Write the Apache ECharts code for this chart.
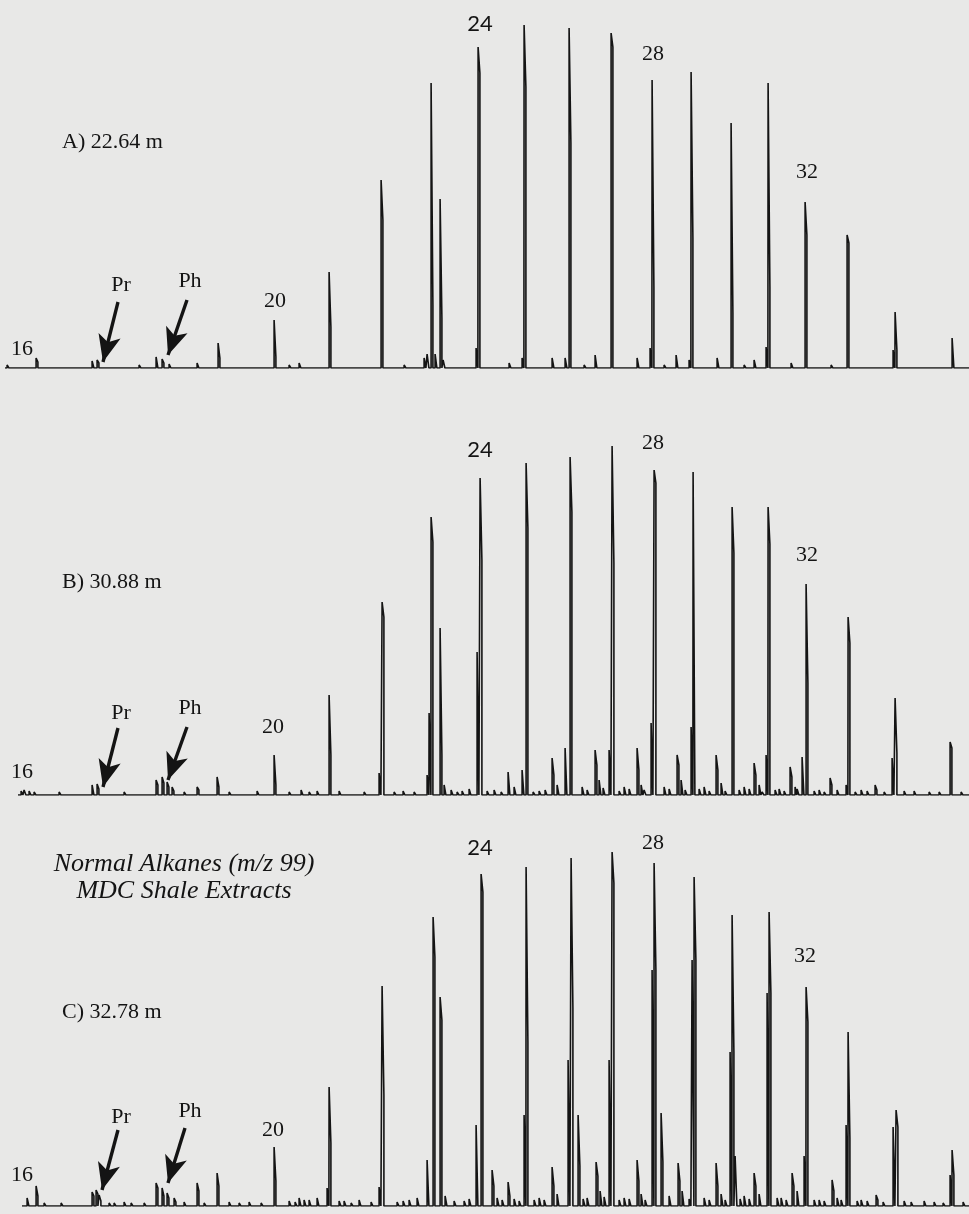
<!DOCTYPE html>
<html><head><meta charset="utf-8">
<script src="https://cdn.jsdelivr.net/npm/echarts@6/dist/echarts.min.js"></script>
<style>html,body{margin:0;padding:0;background:#e8e8e7}#c{width:969px;height:1214px}</style>
</head><body><div id="c"></div>
<script>
// Peaks: [retention position, height, lower (thick) part height]
const peaksA = [
 [8,3],[37,10,6],[93,7],[98,8,5],[157,11],[163,9,5],[170,4],[198,5],[219,25,10],
 [275,48,11],[300,5,3],[330,96,41],[382,188,148],[425,10],[428,14],[432,285,63],[436,14],
 [441,169,50],[444,8],[477,20],[479,321,295],[510,5],[523,10],[525,343,281],[553,10],
 [566,10],[570,340,225],[596,13],[612,335,321],[638,10],[651,20],[653,288,81],[677,13],
 [690,8],[692,296,130],[718,10],[732,245,55],[755,8],[767,21],[769,285,81],[792,5],
 [806,166,133],[832,3],[848,133,125],[894,18],[896,56,18],[953,30,28]
];
const noiseA = [[60,2],[125,2],[140,3],[190,2],[250,2],[290,3],[318,2],[360,2],[405,3],[455,2],
 [540,2],[585,3],[625,2],[665,3],[705,2],[745,3],[780,2],[820,2],[870,2],[920,2],[940,2]];

const peaksB = [
 [25,5],[30,4],[35,3],[93,10],[98,11,6],[157,15,10],[163,18,12],[168,13,8],[173,8,4],
 [198,8,5],[218,18,8],[275,40,10],[302,5],[318,4],[330,100,40],[380,22],[383,193,178],
 [428,20],[430,82],[432,278,253],[441,167,40],[445,10],[478,143],[481,317,235],[509,23],
 [523,25],[527,332,267],[553,37,20],[558,10],[566,47],[571,338,283],[596,45,30],[600,15],
 [610,45],[613,349,232],[638,47,25],[642,10],[652,72],[655,325,312],[678,40,30],[682,15],
 [692,68],[694,323],[717,40,25],[722,12],[733,288,242],[755,32,20],[760,10],[767,40],
 [769,288,251],[791,28,18],[796,8],[803,38],[807,211,112],[831,17,10],[847,10],[849,178,152],
 [876,10,5],[893,37],[896,97,42],[951,53,47]
];
const noiseB = [[22,4],[45,2],[60,3],[110,2],[125,3],[140,2],[185,3],[208,2],[230,3],[244,2],
 [258,4],[290,3],[296,2],[310,3],[340,4],[350,2],[365,3],[372,2],[395,3],[404,4],[415,3],[452,5],
 [458,3],[463,4],[470,6],[488,4],[495,5],[502,3],[515,8],[534,3],[540,4],[546,5],[583,8],[588,5],
 [604,7],[620,4],[625,8],[630,6],[645,5],[665,8],[670,6],[686,5],[700,6],[705,8],[710,4],[726,4],
 [740,5],[745,8],[750,6],[763,3],[776,5],[780,6],[785,4],[798,6],[815,4],[820,5],[825,3],[838,5],
 [856,3],[862,5],[868,4],[885,3],[905,4],[915,4],[930,3],[940,3],[962,3]];

const peaksC = [
 [28,8],[37,20,10],[62,3],[93,14,10],[97,16,12],[100,11,5],[157,23,18],[163,18,10],[168,13,8],
 [175,8,4],[198,23,15],[218,33,20],[275,59,25],[300,8],[305,6],[318,8],[328,18],[330,119,63],
 [380,19],[383,220,111],[428,46],[434,289,249],[441,209,186],[446,10],[477,81],[482,332,314],
 [493,36,20],[498,8],[509,24,10],[525,91],[527,339,164],[553,39,20],[558,12],[569,146],
 [572,348,198],[579,91,40],[597,44,30],[601,15],[610,146],[613,354,323],[638,46,25],[642,12],
 [653,236],[655,343,236],[662,93,44],[679,43,25],[683,15],[693,246],[695,329,246],[717,43,20],
 [722,12],[731,154],[733,291,154],[736,50],[755,33,20],[760,12],[768,213],[770,294,213],
 [793,33,20],[798,15],[805,50],[807,219,184],[833,26,15],[838,8],[847,81],[849,174,68],
 [877,11,6],[894,79],[897,96,79],[951,31],[953,56,31]
];
const noiseC = [[45,3],[70,2],[110,3],[115,3],[125,4],[132,3],[145,3],[185,4],[205,3],[230,4],
 [240,3],[250,4],[262,3],[290,5],[296,4],[310,6],[340,5],[345,5],[352,3],[360,6],[372,4],
 [398,4],[404,5],[410,6],[418,8],[455,5],[465,5],[470,7],[503,6],[515,7],[520,5],[535,6],
 [540,8],[545,6],[584,7],[588,8],[605,9],[620,6],[625,8],[630,7],[646,6],[670,10],[690,7],
 [705,8],[710,6],[726,6],[741,7],[745,10],[750,7],[778,8],[782,8],[787,6],[815,6],[820,6],
 [825,5],[842,6],[858,5],[862,6],[868,5],[884,4],[905,5],[912,4],[925,5],[935,4],[944,3],[964,4]];

const carbonLabels = ['16','20','24','28','32'];
const panelNames = ['A) 22.64 m','B) 30.88 m','C) 32.78 m'];
const traceStart = [5, 18, 22];

const INK = '#141414';
const SERIF = '"Liberation Serif","Times New Roman",serif';

function buildTrace(peaks, noise, start) {
  const all = peaks.map(p => [p[0], p[1], p.length > 2 ? p[2] : p[1]])
    .concat(noise.map(n => [n[0], n[1], n[1]]));
  all.sort((a, b) => a[0] - b[0]);
  const pts = [[start, 0]];
  for (const [x, h, h2] of all) {
    pts.push([x - 0.9, 0], [x - 0.9, h], [x + 0.9, h2], [x + 0.9, 0]);
  }
  pts.push([969, 0]);
  return pts;
}

// annotation anchors (data coordinates of each panel)
const labelAnchors = [
  [[22,19],[275,67],[480,344],[653,314],[807,196]],
  [[22,23],[273,68],[480,345],[653,352],[807,240]],
  [[22,31],[273,76],[480,358],[653,363],[805,250]]
];
const prPhAnchors = [
  {Pr:[121,83], Ph:[190,87], arrPr:[[118,66],[103,6]], arrPh:[[187,68],[168,13]]},
  {Pr:[121,82], Ph:[190,87], arrPr:[[118,67],[103,8]], arrPh:[[187,68],[168,15]]},
  {Pr:[121,89], Ph:[190,95], arrPr:[[118,76],[102,16]], arrPh:[[185,78],[168,23]]}
];

const traces = [buildTrace(peaksA, noiseA, traceStart[0]),
                buildTrace(peaksB, noiseB, traceStart[1]),
                buildTrace(peaksC, noiseC, traceStart[2])];
const gridTops = [0, 427, 838];
const nameTops = [131, 571, 1001];

const grid = [], xAxis = [], yAxis = [], series = [], title = [];
for (let i = 0; i < 3; i++) {
  grid.push({left: 0, width: 969, top: gridTops[i], height: 368});
  xAxis.push({type: 'value', gridIndex: i, min: 0, max: 969, show: false});
  yAxis.push({type: 'value', gridIndex: i, min: 0, max: 368, show: false});
  const a = prPhAnchors[i];
  const arrow = (p) => [
    {coord: p[0], symbol: 'none'},
    {coord: p[1], symbol: 'arrow', symbolSize: [17, 27]}
  ];
  series.push({
    type: 'line', xAxisIndex: i, yAxisIndex: i, data: traces[i],
    showSymbol: false, symbol: 'none', silent: true,
    lineStyle: {color: INK, width: 1.6},
    itemStyle: {color: INK},
    markLine: {
      silent: true, symbol: ['none', 'arrow'], symbolSize: 20,
      itemStyle: {color: INK},
      label: {show: false}, lineStyle: {color: INK, width: 3.4, type: 'solid'},
      animation: false,
      data: [arrow(a.arrPr), arrow(a.arrPh)]
    }
  });
  const lab = carbonLabels.map((t, k) => ({
    name: t, value: labelAnchors[i][k],
    label: {fontFamily: t === '24' ? 'Lato, "Open Sans", sans-serif' : SERIF}
  }));
  lab.push({name: 'Pr', value: a.Pr}, {name: 'Ph', value: a.Ph});
  series.push({
    type: 'scatter', xAxisIndex: i, yAxisIndex: i, data: lab, symbolSize: 0,
    itemStyle: {color: INK}, silent: true,
    label: {show: true, position: 'inside', formatter: '{b}', color: INK,
            textBorderWidth: 0, textBorderColor: 'transparent', opacity: 1,
            fontSize: 22, fontFamily: SERIF}
  });
  title.push({text: panelNames[i], left: 62, top: nameTops[i], padding: 0,
    textStyle: {fontFamily: SERIF, fontWeight: 'normal', fontSize: 22, color: INK}});
}

const chart = echarts.init(document.getElementById('c'), null, {renderer: 'canvas'});
chart.setOption({
  backgroundColor: '#e8e8e7',
  animation: false,
  title, grid, xAxis, yAxis, series,
  graphic: [{
    type: 'text', x: 184, y: 851,
    style: {text: 'Normal Alkanes (m/z 99)\nMDC Shale Extracts', fill: INK,
      font: 'italic 26px "Liberation Serif", serif', lineHeight: 27, align: 'center',
      verticalAlign: 'top'}
  }]
});
</script></body></html>
